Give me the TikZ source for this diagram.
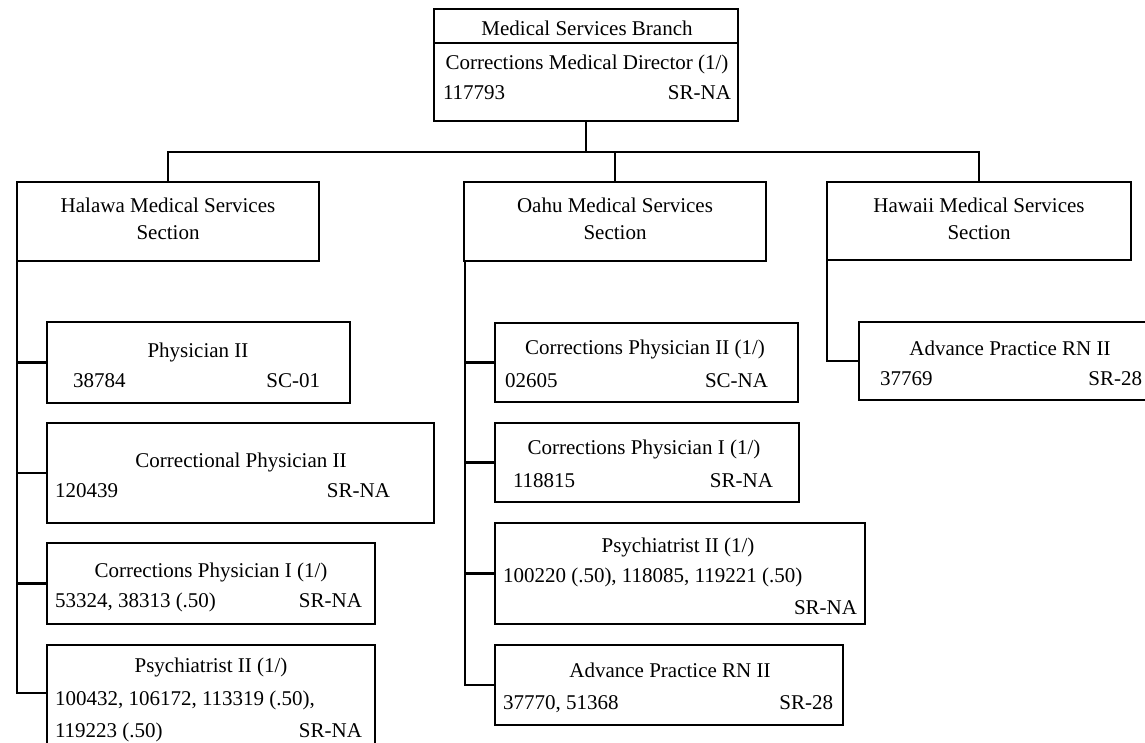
\documentclass[tikz,border=0pt]{standalone}
\usepackage{fontspec}
\setmainfont{Liberation Serif}
\begin{document}
\begin{tikzpicture}[x=1pt,y=-1pt,
  box/.style={draw, line width=2.2pt, inner sep=0pt, outer sep=0pt, anchor=north west},
  conn/.style={line width=2.2pt},
  txt/.style={inner sep=0pt, outer sep=0pt, font=\fontsize{21}{25}\selectfont, yshift=-3pt},
  tc/.style={txt, anchor=mid},
  tl/.style={txt, anchor=mid west},
  tr/.style={txt, anchor=mid east}]
\clip (0,0) rectangle (1145,743);
\fill[white] (0,0) rectangle (1145,743);

% boxes
\node[box, minimum width=304pt, minimum height=112pt] (top) at (434,9) {};
\node[box, minimum width=302pt, minimum height=79pt] (halawa) at (17,182) {};
\node[box, minimum width=302pt, minimum height=79pt] (oahu) at (464,182) {};
\node[box, minimum width=304pt, minimum height=78pt] (hawaii) at (827,182) {};

\node[box, minimum width=303pt, minimum height=81pt] (physA) at (47,322) {};
\node[box, minimum width=387pt, minimum height=100pt] (corrA) at (47,423) {};
\node[box, minimum width=328pt, minimum height=81pt] (cpiA) at (47,543) {};
\node[box, minimum width=328pt, minimum height=110pt] (psyA) at (47,645) {};

\node[box, minimum width=303pt, minimum height=79pt] (cpiiB) at (495,323) {};
\node[box, minimum width=304pt, minimum height=79pt] (cpiB) at (495,423) {};
\node[box, minimum width=370pt, minimum height=101pt] (psyB) at (495,523) {};
\node[box, minimum width=348pt, minimum height=80pt] (aprnB) at (495,645) {};

\node[box, minimum width=300pt, minimum height=78pt] (aprnC) at (859,322) {};

% separator in top box
\coordinate (sep) at (0,43);
\draw[line width=1.6pt] (top.west |- sep) -- (top.east |- sep);

% connectors
\coordinate (bar) at (0,152);
\draw[conn] (top.south) -- (top.south |- bar);
\draw[conn] (halawa.north) -- (halawa.north |- bar) -- (hawaii.north |- bar) -- (hawaii.north);
\draw[conn] (oahu.north |- bar) -- (oahu.north);

\coordinate (psyAc) at (47,693);
\draw[conn] (halawa.south west) -- (halawa.south west |- psyAc) -- (psyAc);
\draw[conn] (halawa.south west |- physA.west) -- (physA.west);
\draw[conn] (halawa.south west |- corrA.west) -- (corrA.west);
\draw[conn] (halawa.south west |- cpiA.west) -- (cpiA.west);

\coordinate (ospine) at (465,0);
\draw[conn] (ospine |- oahu.south) -- (ospine |- aprnB.west) -- (aprnB.west);
\draw[conn] (ospine |- cpiiB.west) -- (cpiiB.west);
\draw[conn] (ospine |- cpiB.west) -- (cpiB.west);
\draw[conn] (ospine |- psyB.west) -- (psyB.west);

\draw[conn] (hawaii.south west) -- (hawaii.south west |- aprnC.west) -- (aprnC.west);

% texts
\node[tc] (t1) at (587,30) {Medical Services Branch};
\node[tc] (t2) at (587,64) {Corrections Medical Director (1/)};
\node[tl] (t3) at (443,94) {117793};
\node[tr] (t4) at (731,94) {SR-NA};

\node[tc] (h1) at (168,207) {Halawa Medical Services};
\node[tc] (h2) at (168,234) {Section};
\node[tc] (o1) at (615,207) {Oahu Medical Services};
\node[tc] (o2) at (615,234) {Section};
\node[tc] (w1) at (979,207) {Hawaii Medical Services};
\node[tc] (w2) at (979,234) {Section};

\node[tc] (c1) at (1010,350) {Advance Practice RN II};
\node[tl] (c2) at (880,380) {37769};
\node[tr] (c3) at (1142,380) {SR-28};

\node[tc] (a1) at (198,352) {Physician II};
\node[tl] (a2) at (73,382) {38784};
\node[tr] (a3) at (320,382) {SC-01};

\node[tc] (a4) at (241,462) {Correctional Physician II};
\node[tl] (a5) at (55,492) {120439};
\node[tr] (a6) at (390,492) {SR-NA};

\node[tc] (a7) at (211,572) {Corrections Physician I (1/)};
\node[tl] (a8) at (55,602) {53324, 38313 (.50)};
\node[tr] (a9) at (362,602) {SR-NA};

\node[tc] (a10) at (211,667) {Psychiatrist II (1/)};
\node[tl] (a11) at (55,700) {100432, 106172, 113319 (.50),};
\node[tl] (a12) at (55,732) {119223 (.50)};
\node[tr] (a13) at (362,732) {SR-NA};

\node[tc] (b1) at (645,349) {Corrections Physician II (1/)};
\node[tl] (b2) at (505,382) {02605};
\node[tr] (b3) at (768,382) {SC-NA};

\node[tc] (b4) at (644,449) {Corrections Physician I (1/)};
\node[tl] (b5) at (513,482) {118815};
\node[tr] (b6) at (773,482) {SR-NA};

\node[tc] (b7) at (678,547) {Psychiatrist II (1/)};
\node[tl] (b8) at (503,577) {100220 (.50), 118085, 119221 (.50)};
\node[tr] (b9) at (857,609) {SR-NA};

\node[tc] (b10) at (670,672) {Advance Practice RN II};
\node[tl] (b11) at (503,704) {37770, 51368};
\node[tr] (b12) at (833,704) {SR-28};
\end{tikzpicture}
\end{document}
